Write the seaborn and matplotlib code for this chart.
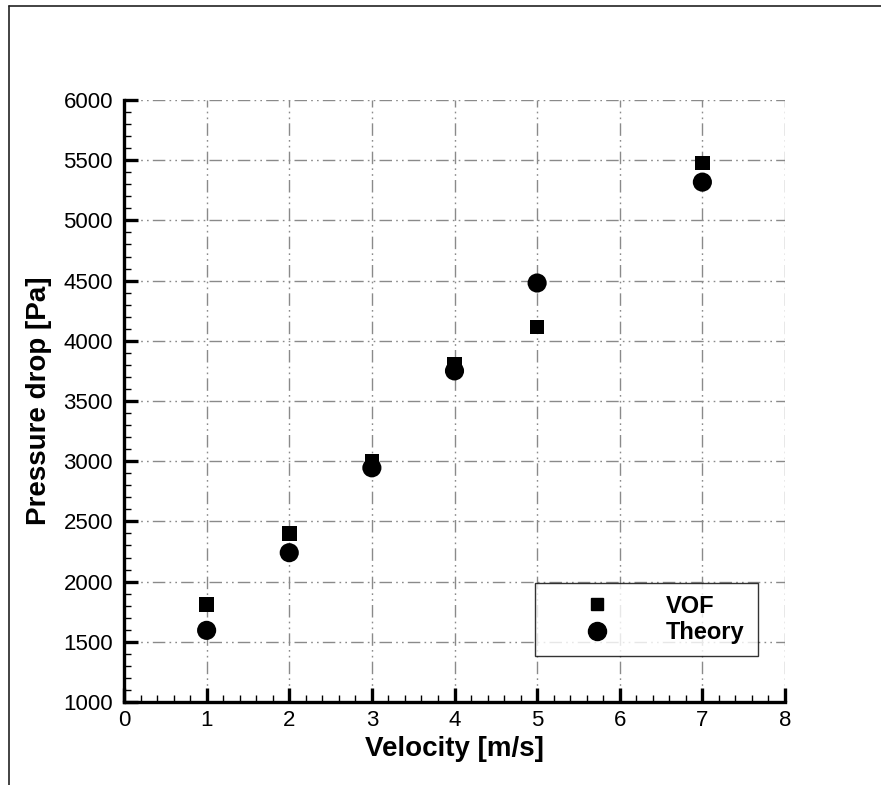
import matplotlib
matplotlib.use("Agg")
import matplotlib.pyplot as plt
from matplotlib.lines import Line2D
from matplotlib.ticker import MultipleLocator
import seaborn as sns
import pandas as pd

velocity = [1, 2, 3, 4, 5, 7]
vof = [1810, 2400, 3000, 3805, 4115, 5475]
theory = [1595, 2240, 2945, 3750, 4480, 5318]
series_names = ["VOF", "Theory"]

df = pd.DataFrame({
    "Velocity": velocity * 2,
    "Pressure": vof + theory,
    "Series": [series_names[0]] * len(vof) + [series_names[1]] * len(theory),
})

sns.set_theme(style="white")
plt.rcParams["font.family"] = ["Liberation Sans", "DejaVu Sans"]
plt.rcParams["text.color"] = "black"
plt.rcParams["axes.labelcolor"] = "black"

fig = plt.figure(figsize=(8.81, 7.85), dpi=100)
ax = fig.add_axes([124 / 881, 83 / 785, 661 / 881, 602 / 785])

sns.scatterplot(data=df, x="Velocity", y="Pressure", style="Series",
                markers={"VOF": "s", "Theory": "o"},
                size="Series", sizes={"VOF": 110, "Theory": 190},
                color="black", edgecolor="black", linewidth=0,
                legend=False, ax=ax, zorder=5)

ax.set_xlim(0, 8)
ax.set_ylim(1000, 6000)
ax.xaxis.set_major_locator(MultipleLocator(1))
ax.xaxis.set_minor_locator(MultipleLocator(0.2))
ax.yaxis.set_major_locator(MultipleLocator(500))
ax.yaxis.set_minor_locator(MultipleLocator(100))

for s in ["top", "right"]:
    ax.spines[s].set_visible(False)
for s in ["left", "bottom"]:
    ax.spines[s].set_visible(True)
    ax.spines[s].set_color("black")
    ax.spines[s].set_linewidth(2.4)

ax.tick_params(axis="both", which="major", direction="in", length=10, width=2.4,
               color="black", labelsize=16, labelcolor="black")
ax.tick_params(axis="both", which="minor", direction="in", length=5, width=1.0, color="black")
ax.tick_params(axis="x", which="major", pad=6)
ax.tick_params(axis="y", which="major", pad=8)
ax.tick_params(left=True, bottom=True, which="both")

ax.grid(True, which="major", color="#8a8a8a", linewidth=1.0,
        linestyle=(0, (9, 3, 1.2, 3, 1.2, 3)))
ax.set_axisbelow(True)

ax.set_xlabel("Velocity [m/s]", fontsize=20, fontweight="bold", labelpad=3)
ax.set_ylabel("Pressure drop [Pa]", fontsize=20, fontweight="bold", labelpad=8)

handles = [
    Line2D([], [], marker="s", linestyle="none", color="black", markersize=9),
    Line2D([], [], marker="o", linestyle="none", color="black", markersize=13),
]
leg = ax.legend(handles, series_names, loc="lower left",
                bbox_to_anchor=(0.622, 0.0764, 0.337, 0.131), mode="expand",
                prop={"weight": "bold", "size": 17}, frameon=True, fancybox=False,
                handlelength=4.25, handletextpad=0.8, borderpad=0.5, labelspacing=0.15,
                borderaxespad=0)
leg.get_frame().set_edgecolor("black")
leg.get_frame().set_linewidth(1.0)
leg.set_zorder(10)

# outer frame lines (top and left)
fig.add_artist(Line2D([9 / 881, 1.0], [1 - 6 / 785, 1 - 6 / 785], transform=fig.transFigure,
                      color="#222222", linewidth=1.2))
fig.add_artist(Line2D([9 / 881, 9 / 881], [0, 1 - 6 / 785], transform=fig.transFigure,
                      color="#222222", linewidth=1.2))

fig.savefig("out.png", dpi=100)
